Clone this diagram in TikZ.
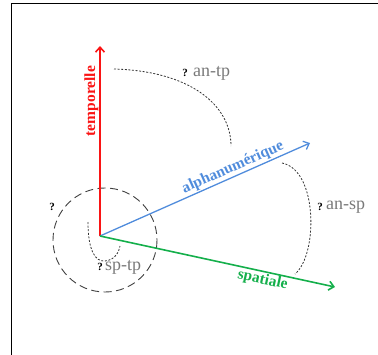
\documentclass[tikz,border=0pt]{standalone}
\usepackage{fontspec}
\setmainfont{Liberation Serif}
\usepackage{xcolor}
\usetikzlibrary{positioning,arrows.meta,calc}
\definecolor{tpred}{RGB}{250,20,20}
\definecolor{anblue}{RGB}{80,140,220}
\definecolor{spgreen}{RGB}{20,175,75}
\tikzset{
  axis/.style={-{Straight Barb[length=5pt,width=9pt]},line width=1.6pt},
  relcurve/.style={gray!40!black,line width=0.8pt,dash pattern=on 2pt off 1.6pt},
  rellabel/.style={gray!95!black,font=\fontsize{18}{20}\selectfont,inner sep=0pt},
  qmark/.style={font=\bfseries\fontsize{11}{12}\selectfont,inner sep=0pt},
  axlabel/.style={font=\bfseries\fontsize{15.5}{17}\selectfont,inner sep=1.5pt}
}

\begin{document}
\begin{tikzpicture}[x=1pt,y=-1pt]
\useasboundingbox (0,0) rectangle (378,354);
\draw[line width=1.6pt] (11.5,356) -- (11.5,3.5) -- (380,3.5);

\coordinate (O) at (100,236);
\coordinate (tp) at (100,46);
\coordinate (an) at (310,143);
\coordinate (sp) at (335,287);

%\draw (O) circle (2);
\draw[gray!50!black,line width=0.9pt,dash pattern=on 8pt off 4.5pt] (105,240) circle (52);

\draw[axis,tpred] (O) -- (tp);
\draw[axis,anblue,line width=1.3pt] (O) -- (an);
\draw[axis,spgreen] (O) -- (sp);

\path (O) -- (tp) node[pos=0.71,sloped,above,axlabel,tpred] {temporelle}; %label
\path (O) -- (an) node[pos=0.65,sloped,above,axlabel,anblue] {alphanumérique}; %label
\path (O) -- (sp) node[pos=0.70,sloped,below,axlabel,spgreen] {spatiale}; %label

\draw[relcurve] (114,69) .. controls (190,71) and (231,105) .. (231,146);
\draw[relcurve] (282,163) .. controls (318,170) and (318,255) .. (295,274);
\draw[relcurve] (88,222) .. controls (88,250) and (95,262) .. (105,261)
  .. controls (115,260) and (119,252) .. (120,246);

\node[qmark] (qtp) at (185,73) {?};
\node[rellabel,right=5pt of qtp] (antp) {an-tp}; %label
\node[qmark] (qsp) at (320,207) {?};
\node[rellabel,right=3pt of qsp] (ansp) {an-sp}; %label
\node[qmark] (qst) at (100,267) {?};
\node[rellabel,right=2pt of qst] (sptp) {sp-tp}; %label
\node[qmark] (qcirc) at (52,207) {?};
\end{tikzpicture}
\end{document}
